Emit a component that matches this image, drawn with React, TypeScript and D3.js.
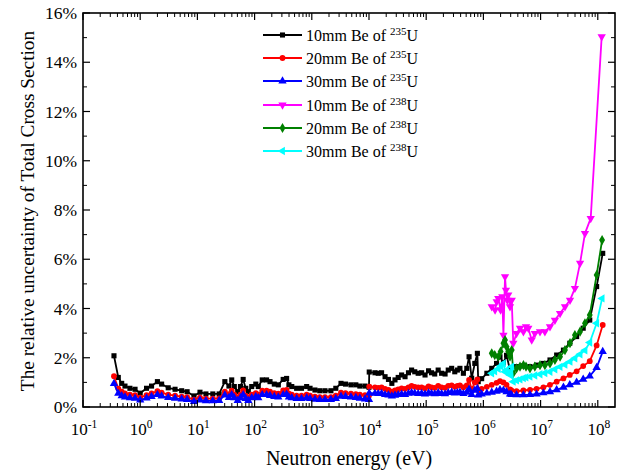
import React from "react";
import * as d3 from "d3";

// ---- data (energies in eV, uncertainties in %) ----
const energy235: number[] = [
  0.348, 0.414, 0.475, 0.542, 0.661, 0.813, 1.0, 1.29, 1.58, 2.0, 2.37, 3.09, 4.07, 5.31, 6.61, 8.71, 11.1, 14.1, 18.6, 24.0, 30.2,
  35.6, 39.8, 44.2, 50.7, 56.6, 63.1, 70.0, 77.6, 89.1, 105, 116, 136, 162, 186, 221, 260, 316, 363, 398, 447, 543, 661, 813, 933,
  1135, 1380, 1700, 2160, 2630, 3240, 3890, 4840, 5890, 6920, 8510, 10000,
  10100, 12700, 14500, 16600, 19100, 21900, 25100, 28500, 32400, 37200, 42700, 49000, 55600, 63100, 72400, 83200, 95500,
  1.10e5, 1.24e5, 1.41e5, 1.62e5, 1.86e5, 2.14e5, 2.43e5, 2.79e5, 3.16e5, 3.51e5, 3.89e5, 4.47e5, 5.13e5, 5.62e5, 6.24e5,
  7.08e5, 7.85e5, 8.13e5, 9.33e5, 1.15e6, 1.40e6, 1.70e6, 1.95e6, 2.24e6, 2.54e6, 2.92e6, 3.09e6, 3.80e6, 5.01e6, 6.53e6,
  8.51e6, 1.12e7, 1.46e7, 1.91e7, 2.51e7, 3.24e7, 4.27e7, 5.56e7, 7.24e7, 9.55e7, 1.22e8,
];
const be10mm235: number[] = [
  2.08, 1.2, 0.96, 0.85, 0.76, 0.72, 0.56, 0.76, 0.85, 1.03, 0.93, 0.78, 0.72, 0.66, 0.62, 0.45, 0.6, 0.53, 0.53, 0.53, 1.03,
  0.85, 1.1, 0.83, 0.62, 0.83, 1.12, 0.76, 0.62, 0.83, 0.93, 0.83, 1.1, 1.1, 1.03, 0.93, 0.9, 1.12, 1.16, 0.9, 0.83, 0.76, 0.76, 0.83, 0.76,
  0.69, 0.66, 0.66, 0.66, 0.76, 0.96, 0.93, 0.9, 0.9, 0.85, 0.85, 0.8,
  1.42, 1.39, 1.37, 1.39, 1.23, 1.12, 0.96, 1.1, 1.2, 1.3, 1.23, 1.39, 1.5, 1.43, 1.37, 1.39, 1.3,
  1.47, 1.39, 1.34, 1.5, 1.37, 1.34, 1.5, 1.57, 1.43, 1.5, 1.57, 1.37, 1.57, 2.04, 1.17,
  1.77, 2.18, 1.03, 1.15, 1.37, 1.57, 1.77, 2.04, 1.8, 2.1, 1.5, 1.5, 1.64, 1.67, 1.64,
  1.7, 1.77, 1.91, 2.11, 2.31, 2.59, 2.86, 3.2, 3.53, 4.89, 6.24,
];
const be20mm235: number[] = [
  1.25, 0.75, 0.62, 0.55, 0.5, 0.48, 0.38, 0.48, 0.55, 0.64, 0.58, 0.5, 0.46, 0.42, 0.4, 0.3, 0.38, 0.34, 0.34, 0.35, 0.62,
  0.52, 0.66, 0.5, 0.38, 0.5, 0.68, 0.46, 0.38, 0.5, 0.56, 0.5, 0.66, 0.66, 0.62, 0.56, 0.54, 0.67, 0.7, 0.54, 0.5, 0.46, 0.46, 0.5, 0.46,
  0.42, 0.4, 0.4, 0.4, 0.46, 0.58, 0.56, 0.54, 0.52, 0.5, 0.48, 0.46,
  0.83, 0.8, 0.78, 0.8, 0.74, 0.7, 0.62, 0.68, 0.72, 0.76, 0.74, 0.8, 0.86, 0.82, 0.8, 0.8, 0.76,
  0.84, 0.8, 0.78, 0.86, 0.8, 0.78, 0.86, 0.88, 0.82, 0.86, 0.88, 0.8, 0.88, 1.1, 0.72,
  1.0, 1.12, 0.68, 0.74, 0.82, 0.9, 0.98, 1.05, 1.0, 0.9, 0.72, 0.68, 0.64, 0.67, 0.7,
  0.74, 0.8, 0.9, 1.03, 1.16, 1.3, 1.45, 1.66, 1.86, 2.5, 3.33,
];
const be30mm235: number[] = [
  0.95, 0.55, 0.45, 0.4, 0.37, 0.35, 0.28, 0.36, 0.42, 0.5, 0.44, 0.38, 0.35, 0.32, 0.3, 0.22, 0.28, 0.25, 0.25, 0.26, 0.48,
  0.38, 0.5, 0.37, 0.26, 0.37, 0.5, 0.34, 0.26, 0.37, 0.42, 0.37, 0.5, 0.5, 0.46, 0.42, 0.4, 0.5, 0.52, 0.4, 0.37, 0.34, 0.34, 0.37, 0.34,
  0.31, 0.3, 0.3, 0.3, 0.34, 0.43, 0.42, 0.4, 0.38, 0.35, 0.32, 0.3,
  0.56, 0.55, 0.54, 0.55, 0.5, 0.48, 0.44, 0.47, 0.5, 0.52, 0.5, 0.55, 0.58, 0.56, 0.54, 0.55, 0.52,
  0.57, 0.55, 0.53, 0.58, 0.54, 0.53, 0.58, 0.6, 0.56, 0.58, 0.6, 0.54, 0.6, 0.72, 0.5,
  0.68, 0.75, 0.48, 0.52, 0.56, 0.6, 0.64, 0.7, 0.68, 0.62, 0.52, 0.5, 0.49, 0.49, 0.5,
  0.52, 0.57, 0.62, 0.7, 0.8, 0.9, 1.0, 1.12, 1.25, 1.6, 2.25,
];

const energy238a: number[] = [
  1.40e6, 1.60e6, 1.71e6, 1.82e6, 2.00e6, 2.14e6, 2.24e6, 2.39e6, 2.48e6, 2.62e6, 2.72e6, 2.92e6, 3.13e6, 3.33e6, 3.80e6, 4.37e6,
  5.01e6, 5.56e6, 6.10e6, 7.00e6, 7.94e6, 9.77e6, 1.19e7, 1.46e7, 1.78e7, 2.19e7, 2.67e7, 3.27e7, 3.98e7, 4.90e7, 5.97e7, 7.52e7, 1.17e8,
];
const be10mm238: number[] = [
  4.07, 3.94, 4.28, 4.41, 3.94, 4.48, 2.92, 5.29, 4.75, 4.34, 4.55, 4.07, 4.34, 2.59, 2.99, 3.2,
  3.06, 3.26, 3.2, 2.72, 2.99, 3.06, 3.06, 3.26, 3.53, 3.8, 4.07, 4.34, 4.82, 5.84, 7.05, 7.66, 15.04,
];

const energy238b: number[] = [
  1.40e6, 1.58e6, 1.82e6, 2.00e6, 2.24e6, 2.39e6, 2.54e6, 2.72e6, 2.92e6, 3.13e6, 3.33e6, 3.80e6, 4.37e6, 5.01e6, 5.56e6,
  6.53e6, 7.94e6, 9.77e6, 1.19e7, 1.46e7, 1.78e7, 2.19e7, 2.67e7, 3.27e7, 3.98e7, 4.90e7, 5.97e7, 7.24e7, 9.55e7, 1.19e8,
];
const be20mm238: number[] = [
  2.18, 2.11, 2.04, 2.25, 2.59, 2.72, 2.45, 2.25, 2.04, 2.31, 1.37, 1.57, 1.64, 1.7, 1.64,
  1.57, 1.64, 1.7, 1.7, 1.77, 1.91, 2.04, 2.31, 2.59, 2.92, 3.06, 3.4, 3.74, 5.36, 6.78,
];
const be30mm238: number[] = [
  1.37, 1.45, 1.55, 1.66, 1.77, 1.43, 1.5, 1.4, 1.3, 1.64, 1.03, 1.08, 1.12, 1.17, 1.2,
  1.23, 1.28, 1.33, 1.38, 1.43, 1.53, 1.63, 1.72, 1.84, 1.98, 2.14, 2.3, 2.62, 3.4, 4.41,
];

const yTickValues: number[] = [0, 2, 4, 6, 8, 10, 12, 14, 16];
const xDecades: number[] = [-1, 0, 1, 2, 3, 4, 5, 6, 7, 8];

type Series = { thick: string; iso: string; color: string; marker: string; x: number[]; y: number[] };
const series: Series[] = [
  { thick: "10mm", iso: "235", color: "#000000", marker: "square", x: energy235, y: be10mm235 },
  { thick: "20mm", iso: "235", color: "#ff0000", marker: "circle", x: energy235, y: be20mm235 },
  { thick: "30mm", iso: "235", color: "#0000ff", marker: "up", x: energy235, y: be30mm235 },
  { thick: "10mm", iso: "238", color: "#ff00ff", marker: "down", x: energy238a, y: be10mm238 },
  { thick: "20mm", iso: "238", color: "#008000", marker: "diamond", x: energy238b, y: be20mm238 },
  { thick: "30mm", iso: "238", color: "#00ffff", marker: "left", x: energy238b, y: be30mm238 },
];

const W = 632, H = 475;
const L = 83, R = 615, T = 13, B = 407;
const FONT = "'Liberation Serif', 'Times New Roman', serif";

function markerPath(kind: string): { d: string; rot: number } {
  const s = d3.symbol();
  switch (kind) {
    case "square": return { d: s.type(d3.symbolSquare).size(26)()!, rot: 0 };
    case "circle": return { d: s.type(d3.symbolCircle).size(26)()!, rot: 0 };
    case "up": return { d: s.type(d3.symbolTriangle).size(30)()!, rot: 0 };
    case "down": return { d: s.type(d3.symbolTriangle).size(30)()!, rot: 180 };
    case "diamond": return { d: s.type(d3.symbolDiamond).size(30)()!, rot: 0 };
    default: return { d: s.type(d3.symbolTriangle).size(30)()!, rot: -90 };
  }
}

export default function App() {
  const x = d3.scaleLog().domain([0.1, 2e8]).range([L, R]);
  const y = d3.scaleLinear().domain([0, 16]).range([B, T]);
  const line = d3.line<[number, number]>().x((d) => x(d[0])).y((d) => y(d[1]));

  const minorX: number[] = [];
  for (const dec of xDecades) {
    for (let m = 2; m <= 9; m++) {
      const v = m * Math.pow(10, dec);
      if (v < 2e8) minorX.push(v);
    }
  }
  const minorY = [1, 3, 5, 7, 9, 11, 13, 15];
  const legendY = [35, 58, 81, 105, 128, 151];

  return (
    <svg width={W} height={H} style={{ position: "absolute", left: 0, top: 0, background: "#fff" }} fontFamily={FONT}>
      <rect x={0} y={0} width={W} height={H} fill="#fff" />
      <defs>
        <clipPath id="clip"><rect x={L} y={T - 6} width={R - L} height={B - T + 6} /></clipPath>
      </defs>
      {/* series */}
      <g clipPath="url(#clip)">
        {series.map((s, i) => {
          const pts: [number, number][] = s.x.map((e, k) => [e, s.y[k]]);
          const m = markerPath(s.marker);
          return (
            <g key={i}>
              <path d={line(pts)!} fill="none" stroke={s.color} strokeWidth={1.8} strokeLinejoin="round" />
              {pts.map((p, k) => (
                <path key={k} d={m.d} fill={s.color} transform={`translate(${x(p[0])},${y(p[1])}) rotate(${m.rot})`} />
              ))}
            </g>
          );
        })}
      </g>
      {/* frame */}
      <rect x={L} y={T} width={R - L} height={B - T} fill="none" stroke="#000" strokeWidth={1.6} />
      {/* x ticks */}
      {xDecades.map((dec) => {
        const px = x(Math.pow(10, dec));
        return (
          <g key={dec}>
            <line x1={px} x2={px} y1={B} y2={B - 7} stroke="#000" strokeWidth={1.2} />
            <line x1={px} x2={px} y1={T} y2={T + 7} stroke="#000" strokeWidth={1.2} />
            <text x={px + 1} y={435} fontSize={17} textAnchor="middle" fill="#000">
              10<tspan dy={-7} fontSize={11.5}>{String(dec)}</tspan>
            </text>
          </g>
        );
      })}
      {minorX.map((v, i) => {
        const px = x(v);
        return (
          <g key={i}>
            <line x1={px} x2={px} y1={B} y2={B - 4} stroke="#000" strokeWidth={1} />
            <line x1={px} x2={px} y1={T} y2={T + 4} stroke="#000" strokeWidth={1} />
          </g>
        );
      })}
      {/* y ticks */}
      {yTickValues.map((v) => (
        <g key={v}>
          <line x1={L} x2={L + 7} y1={y(v)} y2={y(v)} stroke="#000" strokeWidth={1.2} />
          <line x1={R} x2={R - 7} y1={y(v)} y2={y(v)} stroke="#000" strokeWidth={1.2} />
          <text x={77} y={y(v)} dy="0.35em" fontSize={17.5} textAnchor="end" fill="#000">{`${v}%`}</text>
        </g>
      ))}
      {minorY.map((v) => (
        <g key={v}>
          <line x1={L} x2={L + 4} y1={y(v)} y2={y(v)} stroke="#000" strokeWidth={1} />
          <line x1={R} x2={R - 4} y1={y(v)} y2={y(v)} stroke="#000" strokeWidth={1} />
        </g>
      ))}
      {/* axis titles */}
      <text x={349} y={465} fontSize={20} textAnchor="middle" fill="#000">Neutron energy (eV)</text>
      <text transform={`translate(34,${(T + B) / 2 + 1}) rotate(-90)`} fontSize={19.3} textAnchor="middle" fill="#000">
        The relative uncertainty of Total Cross Section
      </text>
      {/* legend */}
      {series.map((s, i) => {
        const m = markerPath(s.marker);
        const ly = legendY[i];
        return (
          <g key={i}>
            <line x1={263} x2={302} y1={ly} y2={ly} stroke={s.color} strokeWidth={2} />
            <path d={m.d} fill={s.color} transform={`translate(282.5,${ly}) rotate(${m.rot})`} />
            <text x={306} y={ly} dy="0.35em" fontSize={16} fill="#000">
              {`${s.thick} Be of `}
              <tspan dy={-6} fontSize={11}>{s.iso}</tspan>
              <tspan dy={6}>U</tspan>
            </text>
          </g>
        );
      })}
    </svg>
  );
}
